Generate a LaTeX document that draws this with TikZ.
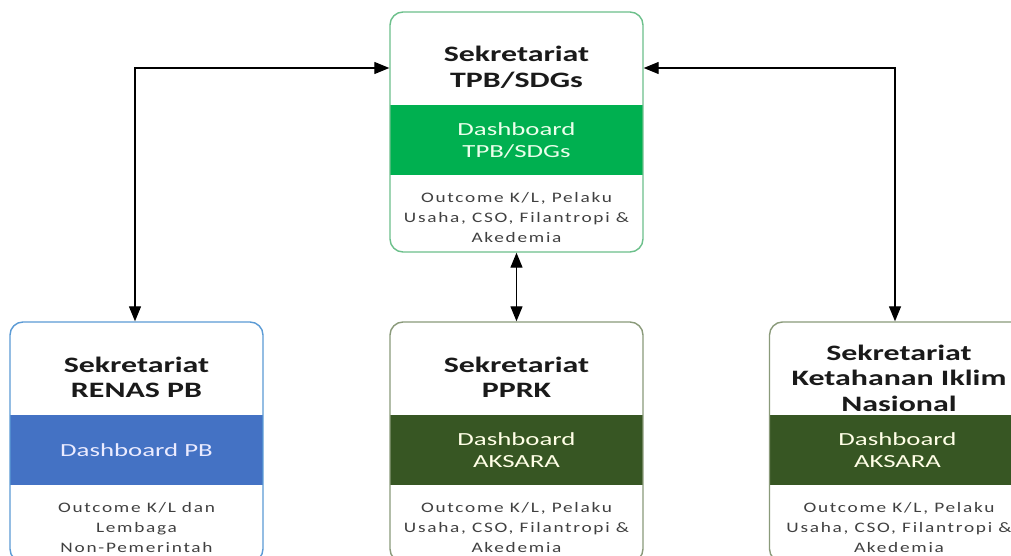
\documentclass[tikz,border=0pt]{standalone}
\usepackage{fontspec}
\setmainfont{Carlito}[FakeStretch=1.45]
\newfontfamily\bodyfont{Carlito}[FakeStretch=1.33,LetterSpace=12]
\usetikzlibrary{arrows.meta}

\definecolor{tpbgreen}{HTML}{00B050}
\definecolor{pbblue}{HTML}{4472C4}
\definecolor{aksgreen}{HTML}{375623}
\definecolor{edgegreen}{HTML}{6CC08B}
\definecolor{edgeblue}{HTML}{5B9BD5}
\definecolor{edgeolive}{HTML}{8A9A7A}
\definecolor{bodygray}{HTML}{404040}
\definecolor{titleink}{HTML}{1A1A1A}

\tikzset{
  panel/.style={rounded corners=13pt, line width=1.4pt, minimum width=253pt,
    minimum height=240pt, inner sep=0pt},
  band/.style={minimum width=253pt, minimum height=70pt, inner sep=0pt,
    align=center, font=\fontsize{18.5}{22}\selectfont},
  heading/.style={align=center, text=titleink, inner sep=0pt,
    font=\fontsize{22}{25.5}\selectfont\bfseries},
  detail/.style={align=center, text=bodygray, inner sep=0pt,
    font=\bodyfont\fontsize{14.5}{20}\selectfont},
  link/.style={line width=1.3pt, {Triangle[length=15pt,width=12pt]}-{Triangle[length=15pt,width=12pt]}}
}

\begin{document}
\begin{tikzpicture}[x=1pt,y=-1pt]
  \fill[white] (0,0) rectangle (1011,556);
  \useasboundingbox (0,0) rectangle (1011,556);
  \clip (0,0) rectangle (1011,556);

  % central secretariat
  \node[band, fill=tpbgreen, text=green!8!white] (tband) at (516.5,140.5) {Dashboard\\TPB/SDGs};
  \node[panel, draw=edgegreen] (tbox) at (516.5,132) {};
  \node[heading] (ttitle) at (516.5,67.5) {Sekretariat\\TPB/SDGs};
  \node[detail] (tbody) at (516.5,218) {Outcome K/L, Pelaku\\Usaha, CSO, Filantropi \&\\Akedemia};

  % RENAS PB
  \node[band, fill=pbblue, text=blue!8!white] (lband) at (136.5,450) {Dashboard PB};
  \node[panel, draw=edgeblue] (lbox) at (136.5,442) {};
  \node[heading] (ltitle) at (136.5,377.5) {Sekretariat\\RENAS PB};
  \node[detail] (lbody) at (136.5,528) {Outcome K/L dan\\Lembaga\\Non-Pemerintah};

  % PPRK
  \node[band, fill=aksgreen, text=yellow!10!white] (mband) at (516.5,450) {Dashboard\\AKSARA};
  \node[panel, draw=edgeolive] (mbox) at (516.5,442) {};
  \node[heading] (mtitle) at (516.5,377.5) {Sekretariat\\PPRK};
  \node[detail] (mbody) at (516.5,528) {Outcome K/L, Pelaku\\Usaha, CSO, Filantropi \&\\Akedemia};

  % climate resilience
  \node[band, fill=aksgreen, text=yellow!10!white, minimum width=256pt] (rband) at (897.5,450) {Dashboard\\AKSARA};
  \node[panel, draw=edgeolive, minimum width=256pt] (rbox) at (897.5,442) {};
  \node[heading] (rtitle) at (899,378) {Sekretariat\\Ketahanan Iklim\\Nasional};
  \node[detail] (rbody) at (899,528) {Outcome K/L, Pelaku\\Usaha, CSO, Filantropi \&\\Akedemia};

  % connectors
  \coordinate (lturn) at (135,68);
  \coordinate (rturn) at (895,68);
  \draw[link] (lbox.north -| lturn) |- (tbox.west |- lturn);
  \draw[link] (rbox.north -| rturn) |- (tbox.east |- rturn);
  \draw[link] (tbox.south) -- (mbox.north);
\end{tikzpicture}
\end{document}
